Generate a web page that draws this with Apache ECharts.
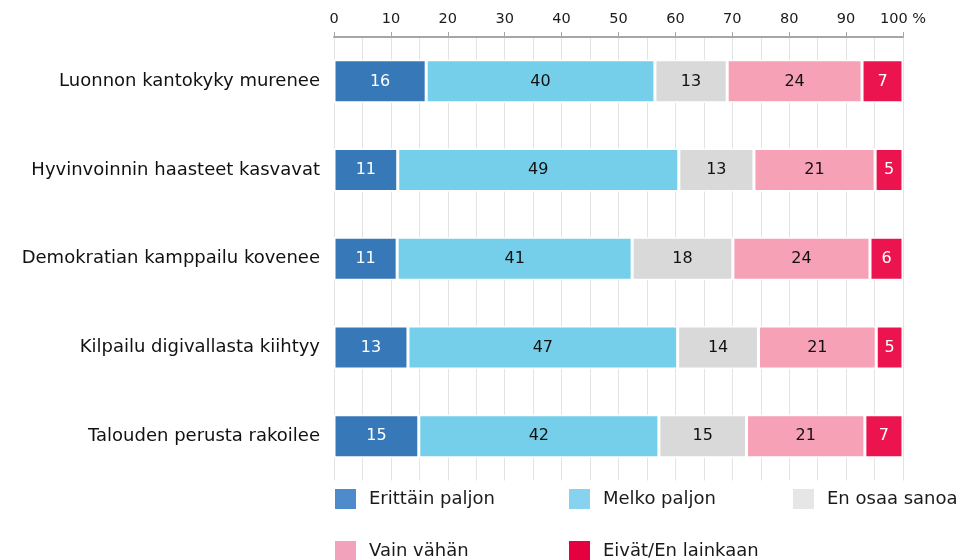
<!DOCTYPE html>
<html>
<head>
<meta charset="utf-8">
<script src="https://cdn.jsdelivr.net/npm/echarts@6/dist/echarts.min.js"></script>
<style>
  html, body { margin: 0; padding: 0; background: #fff; }
  #chart { width: 965px; height: 560px; }
</style>
</head>
<body>
<div id="chart"></div>
<script>
// kategoriat (ylhäältä alas)
var categories = [
    'Luonnon kantokyky murenee',
    'Hyvinvoinnin haasteet kasvavat',
    'Demokratian kamppailu kovenee',
    'Kilpailu digivallasta kiihtyy',
    'Talouden perusta rakoilee'
];

// vastausvaihtoehdot
var seriesNames = ['Erittäin paljon', 'Melko paljon', 'En osaa sanoa', 'Vain vähän', 'Eivät/En lainkaan'];

// osuudet %, arvioitu kuvasta (tarrat pyöristetään)
var erittainPaljon = [16.2, 11.2, 11.1, 13.0, 14.9];
var melkoPaljon    = [40.2, 49.4, 41.3, 47.4, 42.2];
var enOsaaSanoa    = [12.7, 13.2, 17.7, 14.2, 15.4];
var vainVahan      = [23.7, 21.3, 24.1, 20.7, 20.8];
var eivatLainkaan  = [7.2, 4.9, 5.8, 4.7, 6.7];

var xTicks = [0, 10, 20, 30, 40, 50, 60, 70, 80, 90, 100];

var barColors    = ['#3778b8', '#76cfea', '#d9d9d9', '#f7a1b7', '#ec144e'];
var legendColors = ['#4e8bcb', '#87d2ee', '#e6e6e6', '#f2a2ba', '#e5003f'];
var labelColors  = ['#fff', '#111', '#111', '#111', '#fff'];

var allData = [erittainPaljon, melkoPaljon, enOsaaSanoa, vainVahan, eivatLainkaan];

var series = allData.map(function(vals, i) {
    return {
        name: seriesNames[i],
        type: 'bar',
        stack: 'total',
        barWidth: 43,
        itemStyle: {
            color: barColors[i],
            borderColor: '#fff',
            borderWidth: 1.5
        },
        label: {
            show: true,
            position: 'inside',
            color: labelColors[i],
            fontFamily: 'DejaVu Sans',
            fontSize: 16,
            formatter: function(p) {
                return Math.round(p.value);
            }
        },
        data: vals
    };
});

// legenda ruudukkona: jokainen kohta omana komponenttinaan
var legendPos = [
    [335, 489], [569, 489], [793, 489],
    [335, 541], [569, 541]
];
var legends = seriesNames.map(function(n, i) {
    return {
        left: legendPos[i][0],
        top: legendPos[i][1],
        padding: 0,
        itemWidth: 21,
        itemHeight: 20,
        itemGap: 0,
        icon: 'rect',
        selectedMode: false,
        textStyle: {
            fontFamily: 'DejaVu Sans',
            fontSize: 18,
            color: '#1a1a1a',
            padding: [0, 0, 0, 8]
        },
        data: [{ name: n, itemStyle: { color: legendColors[i], borderWidth: 0 } }]
    };
});

var myChart = echarts.init(document.getElementById('chart'));
var option = {
    animation: false,
    backgroundColor: '#fff',
    grid: {
        left: 334,
        right: 62,
        top: 37,
        bottom: 79.5
    },
    legend: legends,
    xAxis: {
        type: 'value',
        position: 'top',
        min: xTicks[0],
        max: xTicks[xTicks.length - 1],
        interval: 10,
        axisLine: { show: true, lineStyle: { color: '#a6a6a6', width: 2 } },
        axisTick: { show: true, length: 5, lineStyle: { color: '#a6a6a6', width: 1 } },
        axisLabel: {
            margin: 10,
            fontFamily: 'DejaVu Sans',
            fontSize: 14.5,
            color: '#1a1a1a',
            formatter: function(v) {
                return v === 100 ? '100 %' : v;
            }
        },
        splitLine: { show: true, lineStyle: { color: '#e3e3e3', width: 1 } },
        minorTick: { show: false, splitNumber: 2 },
        minorSplitLine: { show: true, lineStyle: { color: '#e3e3e3', width: 1 } }
    },
    yAxis: {
        type: 'category',
        inverse: true,
        data: categories,
        axisLine: { show: false },
        axisTick: { show: false },
        axisLabel: {
            margin: 14,
            fontFamily: 'DejaVu Sans',
            fontSize: 18,
            color: '#111'
        }
    },
    series: series
};
myChart.setOption(option);
</script>
</body>
</html>
